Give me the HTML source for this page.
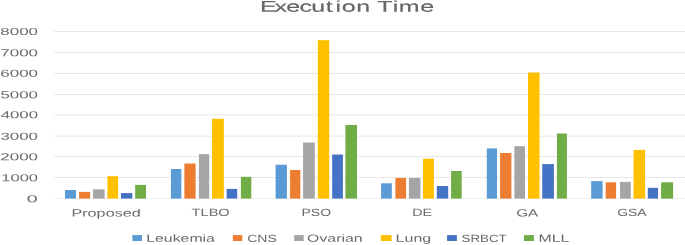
<!DOCTYPE html>
<html><head><meta charset="utf-8"><title>Execution Time</title>
<style>html,body{margin:0;padding:0;background:#fff}svg{display:block}text{font-family:"Liberation Sans",sans-serif;fill:#696969;text-rendering:geometricPrecision}</style></head><body>
<svg width="685" height="245" viewBox="0 0 685 245">
<rect width="685" height="245" fill="#fff"/>
<rect x="54.3" y="198.25" width="630.7" height="0.7" fill="#EAEAEA"/>
<rect x="54.3" y="177.15" width="630.7" height="0.7" fill="#DCDCDC"/>
<rect x="54.3" y="156.25" width="630.7" height="0.7" fill="#DCDCDC"/>
<rect x="54.3" y="135.75" width="630.7" height="0.7" fill="#DCDCDC"/>
<rect x="54.3" y="114.55" width="630.7" height="0.7" fill="#DCDCDC"/>
<rect x="54.3" y="94.25" width="630.7" height="0.7" fill="#DCDCDC"/>
<rect x="54.3" y="73.15" width="630.7" height="0.7" fill="#DCDCDC"/>
<rect x="54.3" y="52.25" width="630.7" height="0.7" fill="#DCDCDC"/>
<rect x="54.3" y="31.25" width="630.7" height="0.7" fill="#DCDCDC"/>
<rect x="65.0" y="190.0" width="11.0" height="8.6" fill="#5B9BD5"/>
<rect x="79.1" y="191.9" width="11.0" height="6.7" fill="#ED7D31"/>
<rect x="93.0" y="189.4" width="11.6" height="9.2" fill="#A5A5A5"/>
<rect x="107.4" y="176.2" width="10.7" height="22.4" fill="#FFC000"/>
<rect x="121.0" y="193.1" width="11.3" height="5.5" fill="#4472C4"/>
<rect x="135.2" y="184.9" width="10.8" height="13.7" fill="#70AD47"/>
<rect x="170.9" y="169.0" width="10.4" height="29.6" fill="#5B9BD5"/>
<rect x="184.4" y="163.5" width="11.2" height="35.1" fill="#ED7D31"/>
<rect x="198.9" y="154.1" width="10.3" height="44.5" fill="#A5A5A5"/>
<rect x="212.0" y="118.8" width="11.8" height="79.8" fill="#FFC000"/>
<rect x="226.6" y="188.9" width="10.6" height="9.7" fill="#4472C4"/>
<rect x="240.9" y="176.8" width="10.4" height="21.8" fill="#70AD47"/>
<rect x="275.6" y="164.7" width="11.3" height="33.9" fill="#5B9BD5"/>
<rect x="290.1" y="170.0" width="10.2" height="28.6" fill="#ED7D31"/>
<rect x="303.1" y="142.5" width="11.7" height="56.1" fill="#A5A5A5"/>
<rect x="317.8" y="40.2" width="11.4" height="158.4" fill="#FFC000"/>
<rect x="332.2" y="154.5" width="10.7" height="44.1" fill="#4472C4"/>
<rect x="345.4" y="124.9" width="11.6" height="73.7" fill="#70AD47"/>
<rect x="381.1" y="183.3" width="10.7" height="15.3" fill="#5B9BD5"/>
<rect x="395.4" y="178.0" width="10.7" height="20.6" fill="#ED7D31"/>
<rect x="408.9" y="178.0" width="11.5" height="20.6" fill="#A5A5A5"/>
<rect x="423.0" y="158.7" width="10.9" height="39.9" fill="#FFC000"/>
<rect x="436.8" y="186.0" width="11.4" height="12.6" fill="#4472C4"/>
<rect x="451.1" y="171.0" width="10.6" height="27.6" fill="#70AD47"/>
<rect x="486.8" y="148.4" width="10.2" height="50.2" fill="#5B9BD5"/>
<rect x="500.1" y="153.0" width="11.3" height="45.6" fill="#ED7D31"/>
<rect x="514.4" y="146.2" width="10.6" height="52.4" fill="#A5A5A5"/>
<rect x="528.0" y="72.5" width="11.5" height="126.1" fill="#FFC000"/>
<rect x="542.2" y="164.1" width="11.7" height="34.5" fill="#4472C4"/>
<rect x="556.9" y="133.5" width="10.0" height="65.1" fill="#70AD47"/>
<rect x="591.2" y="181.1" width="11.4" height="17.5" fill="#5B9BD5"/>
<rect x="605.7" y="182.3" width="10.4" height="16.3" fill="#ED7D31"/>
<rect x="620.0" y="181.9" width="10.8" height="16.7" fill="#A5A5A5"/>
<rect x="633.5" y="149.9" width="11.6" height="48.7" fill="#FFC000"/>
<rect x="647.8" y="187.8" width="10.2" height="10.8" fill="#4472C4"/>
<rect x="661.1" y="182.3" width="12.0" height="16.3" fill="#70AD47"/>
<text transform="translate(0,11.6) rotate(0.02) scale(1.6026,1)" x="162.20 171.32 178.66 186.89 194.20 203.23 209.32 213.29 222.37 232.13 235.41 245.04 248.84 262.31" y="0" font-size="15.6" fill="#555" stroke="#555" stroke-width="0.15">Execution Time</text>
<text transform="translate(71.40,216.45) rotate(0.02) scale(1.5432,1.0000)" font-size="10.5">Proposed</text>
<text transform="translate(191.58,216.45) rotate(0.02) scale(1.3911,1.0000)" font-size="10.5">TLBO</text>
<text transform="translate(301.48,216.45) rotate(0.02) scale(1.3338,1.0000)" font-size="10.5">PSO</text>
<text transform="translate(412.16,216.45) rotate(0.02) scale(1.3552,1.0000)" font-size="10.5">DE</text>
<text transform="translate(516.24,216.45) rotate(0.02) scale(1.4526,1.0000)" font-size="10.5">GA</text>
<text transform="translate(617.20,216.45) rotate(0.02) scale(1.3269,1.0000)" font-size="10.5">GSA</text>
<text transform="translate(146.23,241.80) rotate(0.02) scale(1.5086,1.0000)" font-size="10.5">Leukemia</text>
<text transform="translate(247.20,241.80) rotate(0.02) scale(1.3329,1.0000)" font-size="10.5">CNS</text>
<text transform="translate(307.09,241.80) rotate(0.02) scale(1.5086,1.0000)" font-size="10.5">Ovarian</text>
<text transform="translate(395.62,241.80) rotate(0.02) scale(1.5247,1.0000)" font-size="10.5">Lung</text>
<text transform="translate(461.50,241.80) rotate(0.02) scale(1.2708,1.0000)" font-size="10.5">SRBCT</text>
<text transform="translate(538.43,241.80) rotate(0.02) scale(1.5144,1.0000)" font-size="10.5">MLL</text>
<text transform="translate(26.82,202.25) rotate(0.02) scale(1.9195,1.0000)" font-size="10.2">0</text>
<text transform="translate(1.26,181.15) rotate(0.02) scale(1.6216,1.0000)" font-size="10.2">1000</text>
<text transform="translate(0.25,160.25) rotate(0.02) scale(1.6669,1.0000)" font-size="10.2">2000</text>
<text transform="translate(0.42,139.75) rotate(0.02) scale(1.6591,1.0000)" font-size="10.2">3000</text>
<text transform="translate(0.68,118.35) rotate(0.02) scale(1.6476,1.0000)" font-size="10.2">4000</text>
<text transform="translate(0.42,98.25) rotate(0.02) scale(1.6591,1.0000)" font-size="10.2">5000</text>
<text transform="translate(0.25,76.65) rotate(0.02) scale(1.6669,1.0000)" font-size="10.2">6000</text>
<text transform="translate(0.25,56.25) rotate(0.02) scale(1.6669,1.0000)" font-size="10.2">7000</text>
<text transform="translate(0.34,34.95) rotate(0.02) scale(1.6630,1.0000)" font-size="10.2">8000</text>
<rect x="132.4" y="235.1" width="9.6" height="5.9" fill="#5B9BD5"/>
<rect x="232.9" y="235.1" width="9.4" height="5.9" fill="#ED7D31"/>
<rect x="294.2" y="235.1" width="9.5" height="5.9" fill="#A5A5A5"/>
<rect x="380.8" y="235.1" width="10.8" height="5.9" fill="#FFC000"/>
<rect x="447.1" y="235.1" width="9.8" height="5.9" fill="#4472C4"/>
<rect x="523.9" y="235.1" width="10.0" height="5.9" fill="#70AD47"/>
</svg></body></html>
